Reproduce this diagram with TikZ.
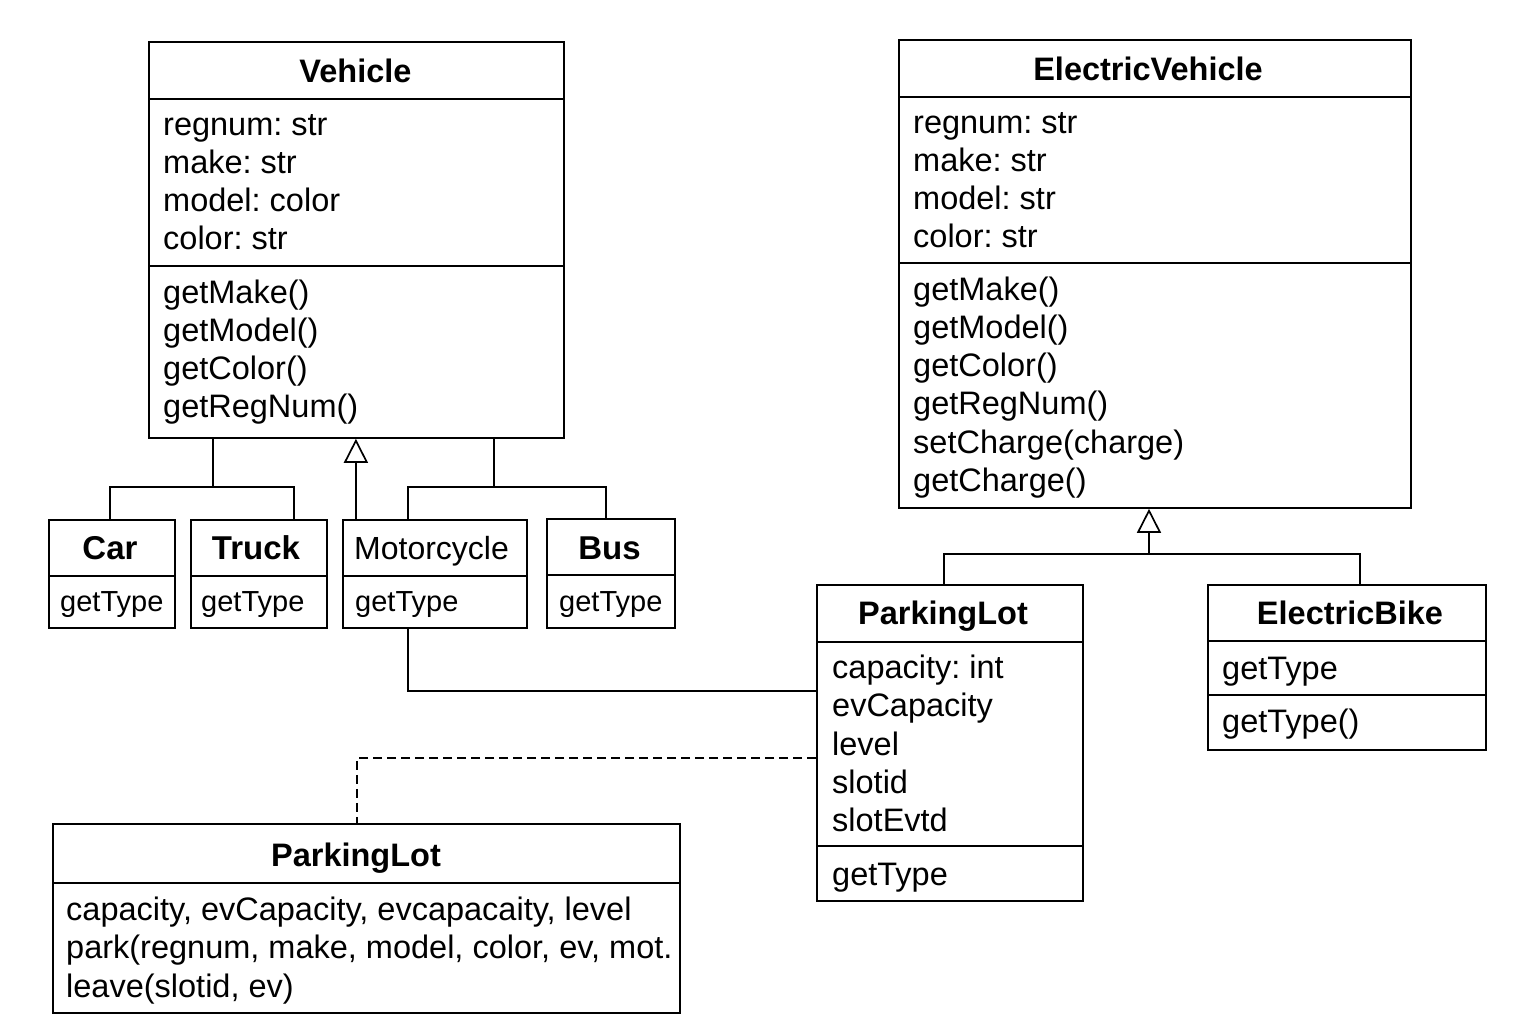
\documentclass[tikz,border=0pt]{standalone}
\usepackage{fontspec}
\setmainfont{Liberation Sans}
\usetikzlibrary{arrows.meta}
\frenchspacing
\newcommand\ffbody{\fontsize{32.5}{38}\selectfont}
\newcommand\fftitle{\fontsize{32.5}{38}\selectfont\bfseries}
\newcommand\ffsmall{\fontsize{29}{34}\selectfont}
\newcommand\ffsmalltitle{\fontsize{33}{38}\selectfont\bfseries}
\begin{document}
\begin{tikzpicture}[x=1pt,y=-1pt,
  box/.style={draw,line width=1.8pt,inner sep=0pt,anchor=north west},
  sep/.style={line width=1.8pt},
  txt/.style={inner sep=0pt,anchor=base west,font=\ffbody},
  ttl/.style={inner sep=0pt,anchor=base,font=\fftitle},
  stxt/.style={inner sep=0pt,anchor=base west,font=\ffsmall},
  sttl/.style={inner sep=0pt,anchor=base,font=\ffsmalltitle},
  conn/.style={line width=1.7pt},
  inh/.style={line width=1.8pt,-{Triangle[open,length=24pt,width=24pt,line width=1.7pt]}},
  dep/.style={line width=1.6pt,dash pattern=on 9pt off 5pt}]
\useasboundingbox (0,0) rectangle (1536,1024);

% ---------- Vehicle ----------
\node[box,minimum width=415pt,minimum height=396pt] (veh) at (148,41) {};
\draw[sep] (148,99) -- (563,99);
\draw[sep] (148,266) -- (563,266);
\node[ttl] (vehT) at (355.5,83) {Vehicle};
\node[txt] (va1) at (163,136) {regnum: str};
\node[txt] (va2) at (163,174) {make: str};
\node[txt] (va3) at (163,212) {model: color};
\node[txt] (va4) at (163,250) {color: str};
\node[txt] (vm1) at (163,303) {getMake()};
\node[txt] (vm2) at (163,341) {getModel()};
\node[txt] (vm3) at (163,379) {getColor()};
\node[txt] (vm4) at (163,417) {getRegNum()};

% ---------- ElectricVehicle ----------
\node[box,minimum width=512pt,minimum height=468pt] (ev) at (898,39) {};
\draw[sep] (898,97) -- (1410,97);
\draw[sep] (898,263) -- (1410,263);
\node[ttl] (evT) at (1148,81) {ElectricVehicle};
\node[txt] (ea1) at (913,134) {regnum: str};
\node[txt] (ea2) at (913,172) {make: str};
\node[txt] (ea3) at (913,210) {model: str};
\node[txt] (ea4) at (913,248) {color: str};
\node[txt] (em1) at (913,300) {getMake()};
\node[txt] (em2) at (913,338) {getModel()};
\node[txt] (em3) at (913,376) {getColor()};
\node[txt] (em4) at (913,414) {getRegNum()};
\node[txt] (em5) at (913,453) {setCharge(charge)};
\node[txt] (em6) at (913,491) {getCharge()};

% ---------- small vehicle classes ----------
\node[box,minimum width=126pt,minimum height=108pt] (car) at (48,519) {};
\draw[sep] (48,576) -- (174,576);
\node[sttl] (carT) at (110,559) {Car};
\node[stxt] (carM) at (60,611) {getType};

\node[box,minimum width=136pt,minimum height=108pt] (truck) at (190,519) {};
\draw[sep] (190,576) -- (326,576);
\node[sttl] (truckT) at (256,559) {Truck};
\node[stxt] (truckM) at (201,611) {getType};

\node[box,minimum width=184pt,minimum height=108pt] (moto) at (342,519) {};
\draw[sep] (342,576) -- (526,576);
\node[inner sep=0pt,anchor=base west,font=\fontsize{32}{38}\selectfont] (motoT) at (354,559) {Motorcycle};
\node[stxt] (motoM) at (355,611) {getType};

\node[box,minimum width=128pt,minimum height=109pt] (bus) at (546,518) {};
\draw[sep] (546,575) -- (674,575);
\node[sttl] (busT) at (609.5,559) {Bus};
\node[stxt] (busM) at (559,611) {getType};

% ---------- ParkingLot (right) ----------
\node[box,minimum width=266pt,minimum height=316pt] (pl) at (816,584) {};
\draw[sep] (816,642) -- (1082,642);
\draw[sep] (816,846) -- (1082,846);
\node[ttl] (plT) at (943,624) {ParkingLot};
\node[txt] (pa1) at (832,678) {capacity: int};
\node[txt] (pa2) at (832,716) {evCapacity};
\node[txt] (pa3) at (832,755) {level};
\node[txt] (pa4) at (832,793) {slotid};
\node[txt] (pa5) at (832,831) {slotEvtd};
\node[txt] (pm1) at (832,885) {getType};

% ---------- ElectricBike ----------
\node[box,minimum width=278pt,minimum height=165pt] (eb) at (1207,584) {};
\draw[sep] (1207,641) -- (1485,641);
\draw[sep] (1207,695) -- (1485,695);
\node[ttl] (ebT) at (1350,624) {ElectricBike};
\node[txt] (eb1) at (1222,679) {getType};
\node[txt] (eb2) at (1222,732) {getType()};

% ---------- ParkingLot (bottom) ----------
\node[box,minimum width=627pt,minimum height=189pt] (bpl) at (52,823) {};
\draw[sep] (52,883) -- (679,883);
\node[ttl] (bplT) at (356,866) {ParkingLot};
\node[txt] (b1) at (66,920) {capacity, evCapacity, evcapacaity, level};
\node[txt] (b2) at (66,958.5) {park(regnum, make, model, color, ev, mot.};
\node[txt] (b3) at (66,997) {leave(slotid, ev)};

% ---------- connectors ----------
\coordinate (vj1) at (213,487);
\coordinate (vj2) at (494,487);
\coordinate (evj) at (1149,554);

\draw[conn] ([xshift=-2pt]car.north) |- (vj1) -| ([xshift=35pt]truck.north);
\draw[conn] (vj1) -- (vj1 |- veh.south);
\draw[conn] ([xshift=-27pt]moto.north) |- (vj2) -| ([xshift=-5pt]bus.north);
\draw[conn] (vj2) -- (vj2 |- veh.south);
\draw[inh] ([xshift=-79pt]moto.north) -- ([xshift=-79pt]moto.north |- veh.south);

\draw[conn] ([xshift=-6pt]pl.north) |- (evj) -| ([xshift=13pt]eb.north);
\draw[inh] (evj) -- (evj |- ev.south);

\draw[conn] ([xshift=-27pt]moto.south) |- ([yshift=52pt]pl.west);
\draw[dep] ([yshift=-15pt]pl.west) -| ([xshift=-9.5pt]bpl.north);
\end{tikzpicture}
\end{document}
